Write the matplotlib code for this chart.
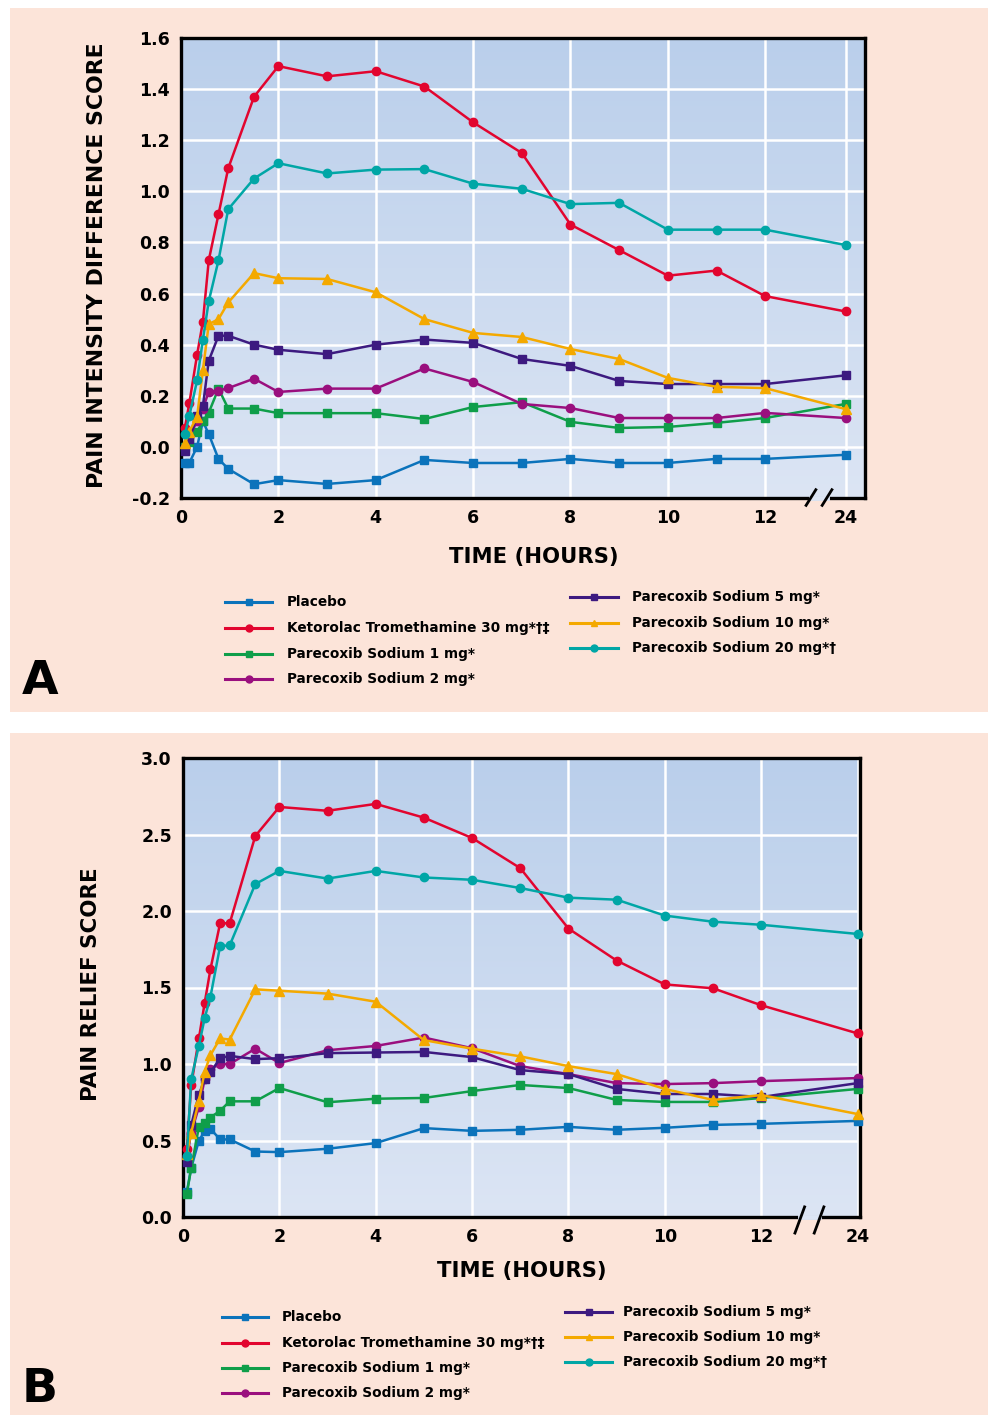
import matplotlib
matplotlib.use("Agg")
import matplotlib.pyplot as plt
import numpy as np
from matplotlib.colors import LinearSegmentedColormap
from matplotlib.lines import Line2D
from matplotlib.patches import Rectangle
import matplotlib.transforms as mtransforms

W, H = 988, 1415

# time points (hours); 24 h sits after the axis break
hours = [0.08, 0.17, 0.33, 0.45, 0.57, 0.77, 0.97, 1.5, 2, 3, 4, 5, 6, 7, 8, 9, 10, 11, 12, 24]
hour_ticks = [0, 2, 4, 6, 8, 10, 12, 24]

labels = ["Placebo", "Ketorolac Tromethamine 30 mg*\u2020\u2021", "Parecoxib Sodium 1 mg*",
          "Parecoxib Sodium 2 mg*", "Parecoxib Sodium 5 mg*", "Parecoxib Sodium 10 mg*",
          "Parecoxib Sodium 20 mg*\u2020"]
colors = ["#0B73BB", "#E2052F", "#0F9E4A", "#9A0F7E", "#3D1A80", "#F4A900", "#00A6A6"]
markers = ["s", "o", "s", "o", "s", "^", "o"]

# A: pain intensity difference score
pid_placebo = [-0.063, -0.063, 0.0, 0.10, 0.05, -0.047, -0.086, -0.146, -0.13, -0.145, -0.13, -0.051,
               -0.063, -0.063, -0.047, -0.063, -0.063, -0.047, -0.047, -0.031]
pid_ketorolac = [0.075, 0.17, 0.36, 0.49, 0.73, 0.91, 1.09, 1.37, 1.49, 1.45, 1.47, 1.41,
                 1.27, 1.15, 0.87, 0.77, 0.67, 0.69, 0.59, 0.53]
pid_1mg = [0.0, 0.02, 0.06, 0.10, 0.134, 0.228, 0.15, 0.15, 0.132, 0.132, 0.132, 0.109,
           0.156, 0.175, 0.098, 0.074, 0.078, 0.094, 0.113, 0.168]
pid_2mg = [0.0, 0.04, 0.10, 0.15, 0.216, 0.22, 0.23, 0.267, 0.215, 0.228, 0.228, 0.307,
           0.254, 0.168, 0.152, 0.113, 0.113, 0.113, 0.133, 0.113]
pid_5mg = [-0.018, 0.03, 0.12, 0.16, 0.337, 0.435, 0.435, 0.40, 0.38, 0.363, 0.40, 0.42,
           0.407, 0.344, 0.317, 0.258, 0.246, 0.246, 0.246, 0.28]
pid_10mg = [0.014, 0.06, 0.118, 0.30, 0.48, 0.50, 0.565, 0.68, 0.66, 0.657, 0.605, 0.50,
            0.446, 0.43, 0.383, 0.344, 0.27, 0.235, 0.23, 0.148]
pid_20mg = [0.05, 0.12, 0.26, 0.42, 0.57, 0.73, 0.93, 1.05, 1.11, 1.07, 1.085, 1.087,
            1.03, 1.01, 0.95, 0.955, 0.85, 0.85, 0.85, 0.79]

# B: pain relief score
pr_placebo = [0.164, 0.32, 0.50, 0.56, 0.576, 0.507, 0.507, 0.428, 0.424, 0.446, 0.483, 0.581,
              0.563, 0.57, 0.589, 0.57, 0.583, 0.602, 0.609, 0.628]
pr_ketorolac = [0.446, 0.86, 1.167, 1.40, 1.62, 1.92, 1.92, 2.49, 2.68, 2.655, 2.70, 2.61,
                2.477, 2.28, 1.885, 1.676, 1.52, 1.495, 1.384, 1.2]
pr_1mg = [0.153, 0.32, 0.59, 0.613, 0.65, 0.695, 0.756, 0.756, 0.843, 0.75, 0.773, 0.778,
          0.823, 0.863, 0.843, 0.765, 0.752, 0.752, 0.778, 0.837]
pr_2mg = [0.40, 0.55, 0.72, 0.90, 0.967, 1.0, 1.0, 1.10, 1.006, 1.09, 1.118, 1.173,
          1.103, 0.986, 0.934, 0.875, 0.869, 0.875, 0.888, 0.908]
pr_5mg = [0.359, 0.60, 0.80, 0.90, 0.945, 1.038, 1.053, 1.032, 1.038, 1.071, 1.075, 1.079,
          1.045, 0.96, 0.934, 0.837, 0.804, 0.804, 0.784, 0.875]
pr_10mg = [0.413, 0.55, 0.76, 0.95, 1.058, 1.167, 1.16, 1.488, 1.479, 1.46, 1.407, 1.156,
           1.10, 1.05, 0.986, 0.934, 0.837, 0.765, 0.797, 0.673]
pr_20mg = [0.40, 0.90, 1.12, 1.30, 1.44, 1.77, 1.776, 2.176, 2.262, 2.212, 2.262, 2.219,
           2.204, 2.15, 2.087, 2.074, 1.97, 1.93, 1.91, 1.85]

pid_ticks = [-0.2, 0.0, 0.2, 0.4, 0.6, 0.8, 1.0, 1.2, 1.4, 1.6]
pr_ticks = [0.0, 0.5, 1.0, 1.5, 2.0, 2.5, 3.0]

PEACH = "#FCE4D9"
cmap = LinearSegmentedColormap.from_list("bg", ["#DCE5F4", "#BACFEB"])
FONT = "DejaVu Sans"


def fx(x):
    return x / W


def fy(y):
    return 1 - y / H


def draw_panel(ax, data, yticks, pos24, breaks, slash_y):
    grad = np.linspace(0, 1, 256).reshape(-1, 1)
    ax.imshow(grad, extent=[0, 1, 0, 1], transform=ax.transAxes, cmap=cmap,
              aspect="auto", origin="lower", zorder=0)
    xs = [pos24 if h == 24 else h for h in hours]
    order = [4, 3, 2, 0, 6, 1, 5]
    for i in order:
        ax.plot(xs, data[i], color=colors[i], marker=markers[i], lw=1.8,
                ms=6 if markers[i] != "^" else 6.5, zorder=3 + i * 0.1, clip_on=False)
    ax.set_xlim(0, 14.05)
    ax.set_ylim(yticks[0], yticks[-1])
    xt = [pos24 if h == 24 else h for h in hour_ticks]
    ax.set_xticks(xt)
    ax.set_xticklabels([str(h) for h in hour_ticks])
    ax.set_yticks(yticks)
    ax.set_yticklabels(["%.1f" % v for v in yticks])
    ax.set_axisbelow(True)
    ax.grid(True, color="white", lw=1.8)
    ax.tick_params(length=0, labelsize=12.5, pad=8)
    for lab in ax.get_xticklabels() + ax.get_yticklabels():
        lab.set_fontweight("bold")
    for s in ax.spines.values():
        s.set_linewidth(2.4)
        s.set_color("black")
    # axis break on the time axis
    tr = mtransforms.blended_transform_factory(ax.transData, ax.transAxes)
    ax.add_line(Line2D([breaks[0], breaks[1]], [0, 0], transform=tr, color="#DCE5F4",
                       lw=3.5, clip_on=False, zorder=5))
    for b in breaks:
        ax.add_line(Line2D([b - 0.1, b + 0.1], [slash_y[0], slash_y[1]], transform=tr,
                           color="black", lw=2.0, clip_on=False, zorder=6))


def draw_legend(fig, left_rows, right_rows, left_x, right_x):
    entries = [(0, left_rows[0], left_x), (1, left_rows[1], left_x), (2, left_rows[2], left_x),
               (3, left_rows[3], left_x), (4, right_rows[0], right_x),
               (5, right_rows[1], right_x), (6, right_rows[2], right_x)]
    for i, row, (x0, x1, xt) in entries:
        xm = (x0 + x1) / 2
        fig.add_artist(Line2D([fx(x0), fx(xm), fx(x1)], [fy(row)] * 3, transform=fig.transFigure,
                              color=colors[i], lw=2.2, marker=markers[i], markevery=[1], ms=5))
        fig.text(fx(xt), fy(row), labels[i], fontsize=9.8, fontweight="bold",
                 va="center", ha="left", family=FONT)


fig = plt.figure(figsize=(W / 100, H / 100), dpi=100)
fig.patch.set_facecolor("white")
fig.add_artist(Rectangle((fx(10), fy(712)), fx(978), 704 / H, transform=fig.transFigure,
                         facecolor=PEACH, edgecolor="none", zorder=-10))
fig.add_artist(Rectangle((fx(10), 0), fx(978), 682 / H, transform=fig.transFigure,
                         facecolor=PEACH, edgecolor="none", zorder=-10))

axA = fig.add_axes([fx(181), fy(498), fx(684), 460 / H])
draw_panel(axA, [pid_placebo, pid_ketorolac, pid_1mg, pid_2mg, pid_5mg, pid_10mg, pid_20mg],
           pid_ticks, 13.65, (12.94, 13.27), (-0.016, 0.018))
fig.text(fx(97), fy(265), "PAIN INTENSITY DIFFERENCE SCORE", rotation=90, fontsize=15.8,
         fontweight="bold", ha="center", va="center", family=FONT)
fig.text(fx(534), fy(557), "TIME (HOURS)", fontsize=15.2, fontweight="bold",
         ha="center", va="center", family=FONT)
draw_legend(fig, [602, 628, 654, 679], [597, 623, 648], (225, 272, 287), (570, 618, 632))
fig.text(fx(40), fy(682), "A", fontsize=34, fontweight="bold", ha="center", va="center", family=FONT)

axB = fig.add_axes([fx(183), fy(1217), fx(677), 459 / H])
draw_panel(axB, [pr_placebo, pr_ketorolac, pr_1mg, pr_2mg, pr_5mg, pr_10mg, pr_20mg],
           pr_ticks, 14.0, (12.8, 13.2), (-0.035, 0.022))
fig.text(fx(91), fy(984), "PAIN RELIEF SCORE", rotation=90, fontsize=15.4,
         fontweight="bold", ha="center", va="center", family=FONT)
fig.text(fx(522), fy(1271), "TIME (HOURS)", fontsize=15.2, fontweight="bold",
         ha="center", va="center", family=FONT)
draw_legend(fig, [1317, 1343, 1368, 1393], [1312, 1337, 1362], (222, 268, 282), (565, 612, 623))
fig.text(fx(40), fy(1389), "B", fontsize=34, fontweight="bold", ha="center", va="center", family=FONT)

fig.savefig("out.png", dpi=100, facecolor="white")
